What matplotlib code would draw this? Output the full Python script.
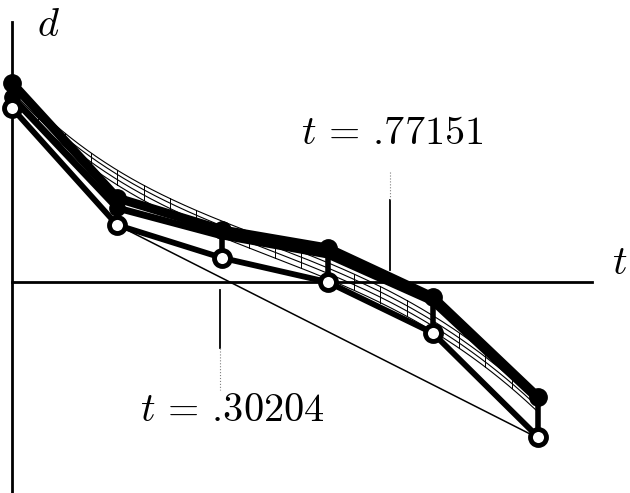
import numpy as np
import matplotlib
matplotlib.use('Agg')
import matplotlib.pyplot as plt
from math import comb

plt.rcParams['mathtext.fontset'] = 'cm'

# control abscissae (parameter t)
t_ctrl = [0.0, 0.2, 0.4, 0.6, 0.8, 1.0]
# control ordinates of the polygons (d)
d_upper = [1.99, 0.84, 0.52, 0.34, -0.15, -1.15]    # filled circles
d_mid = [1.85, 0.74, 0.46, 0.27, -0.20, -1.18]      # middle polygon
d_lower = [1.74, 0.57, 0.24, 0.00, -0.51, -1.55]    # open circles
# polygons whose Bezier curves form the hatched band
band_polys = [
    [1.99, 0.84, 0.52, 0.34, -0.15, -1.15],
    [1.95, 0.80, 0.47, 0.28, -0.20, -1.20],
    [1.91, 0.74, 0.42, 0.22, -0.25, -1.25],
    [1.87, 0.68, 0.36, 0.16, -0.30, -1.30],
]
# hull line
hull_t = [0.2, 0.985]
hull_d = [0.57, -1.52]
# marked roots: drawn position and label
root_pos = [0.395, 0.719]
root_labels = [r'$t\,=\,.\hspace{-0.2}30204$', r'$t\,=\,.\hspace{-0.2}77151$']


def bezier(ctrl, tt):
    n = len(ctrl) - 1
    return sum(comb(n, k) * tt**k * (1 - tt)**(n - k) * c for k, c in enumerate(ctrl))


fig = plt.figure(figsize=(6.3, 4.93), dpi=100)
ax = fig.add_axes([0, 0, 1, 1])
px2t = lambda px: (px - 12) / 526.0
px2d = lambda py: (282 - py) / 100.0
ax.set_xlim(px2t(0), px2t(630))
ax.set_ylim(px2d(493), px2d(0))
for s in ['top', 'right']:
    ax.spines[s].set_visible(False)
ax.spines['left'].set_position(('data', 0))
ax.spines['bottom'].set_position(('data', 0))
ax.spines['left'].set_bounds(px2d(493), px2d(22))
ax.spines['bottom'].set_bounds(0, px2t(592))
for s in ['left', 'bottom']:
    ax.spines[s].set_linewidth(2.0)
ax.set_xticks([])
ax.set_yticks([])

# band
tt = np.linspace(0, 1, 300)
for poly in band_polys:
    ax.plot(tt, bezier(poly, tt), color='black', lw=0.8, zorder=2)
th = np.arange(1, 20) / 20.0
for tk in th:
    ax.plot([tk, tk], [bezier(band_polys[0], tk), bezier(band_polys[-1], tk)],
            color='black', lw=0.7, zorder=2)

# hull line
ax.plot(hull_t, hull_d, color='black', lw=1.1, zorder=2)

# polygons
ax.plot(t_ctrl, d_mid, color='black', lw=5.0, zorder=3, solid_capstyle='round')
ax.plot(t_ctrl, d_lower, color='black', lw=4.2, zorder=3, solid_capstyle='round')
ax.plot(t_ctrl, d_upper, color='black', lw=6.5, zorder=3, solid_capstyle='round')
for tc, a, b in zip(t_ctrl, d_upper, d_lower):
    ax.plot([tc, tc], [a, b], color='black', lw=4.0, zorder=3)
ax.plot(t_ctrl[:2], d_mid[:2], 'o', ms=11, color='black', zorder=4)
ax.plot(t_ctrl, d_upper, 'o', ms=12.5, color='black', zorder=5)
ax.plot(t_ctrl, d_lower, 'o', ms=11.5, mfc='white', mec='black', mew=3.5, zorder=5)

# root ticks
ax.plot([root_pos[0]] * 2, [px2d(290), px2d(348)], color='black', lw=1.3, zorder=2)
ax.plot([root_pos[0]] * 2, [px2d(348), px2d(390)], color='gray', lw=0.8, ls=':', zorder=2)
ax.plot([root_pos[1]] * 2, [px2d(200), px2d(270)], color='black', lw=1.3, zorder=2)
ax.plot([root_pos[1]] * 2, [px2d(172), px2d(200)], color='gray', lw=0.8, ls=':', zorder=2)

ax.text(px2t(232), px2d(410), root_labels[0], fontsize=29, ha='center', va='center')
ax.text(px2t(392), px2d(133), root_labels[1], fontsize=29, ha='center', va='center')
ax.text(px2t(48), px2d(25), r'$d$', fontsize=29, ha='center', va='center')
ax.text(px2t(620), px2d(263), r'$t$', fontsize=29, ha='center', va='center')

fig.savefig('out.png', dpi=100)
